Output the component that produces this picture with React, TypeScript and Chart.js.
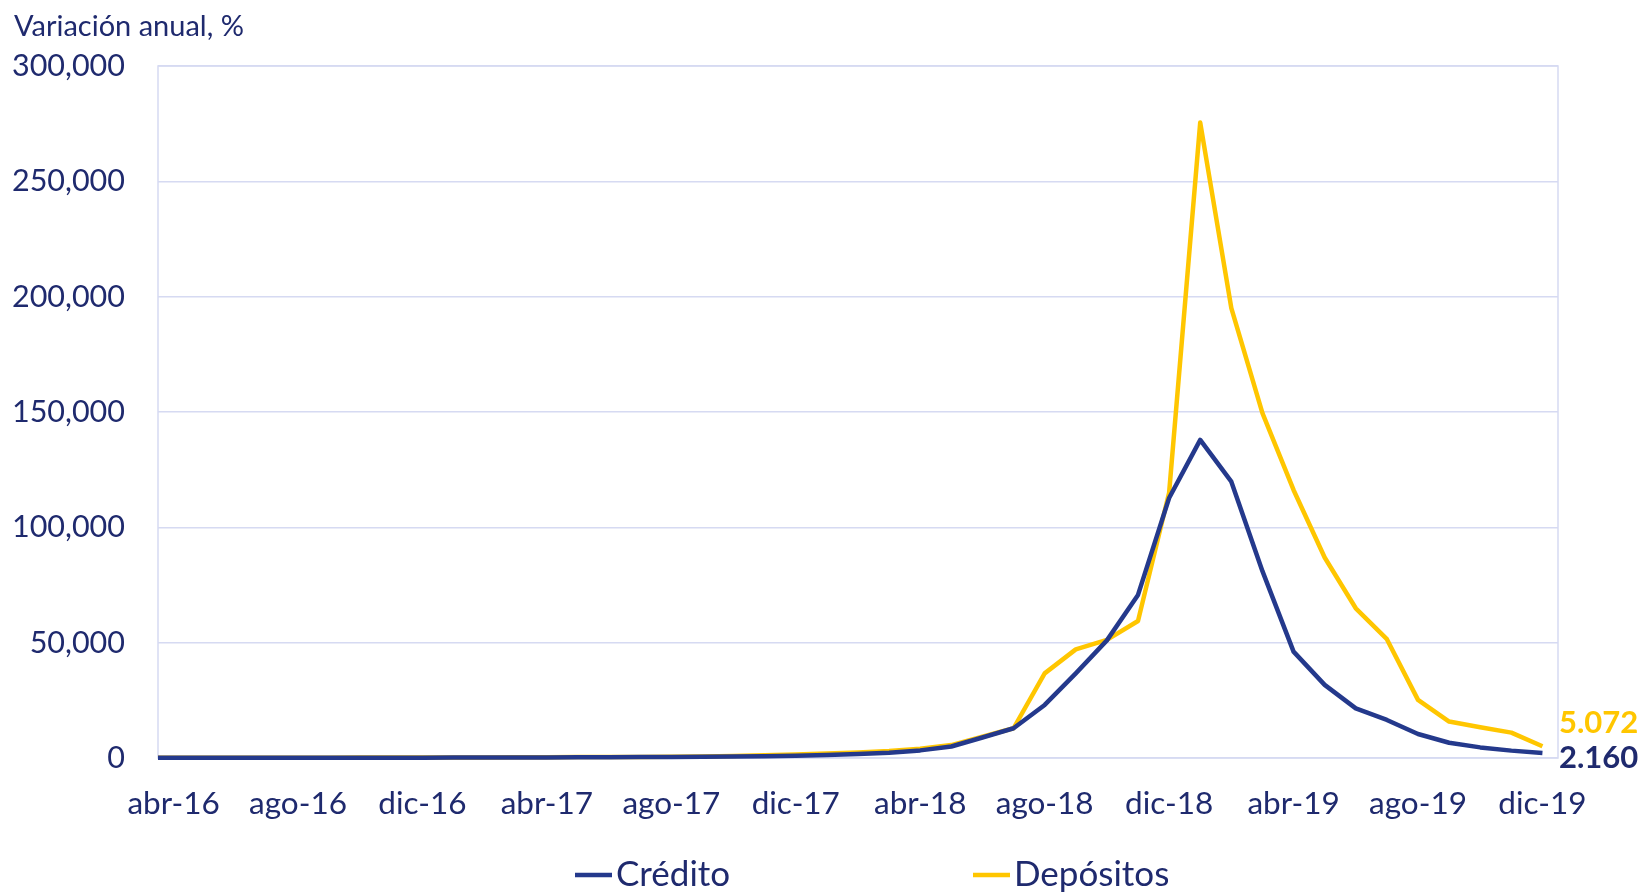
import React, { useEffect, useRef } from 'react';
import { Chart, registerables } from 'chart.js';

Chart.register(...registerables);

// Months (mar-16 is just before the visible range; its segment is clipped at the plot edge)
const months = [
  'mar-16', 'abr-16', 'may-16', 'jun-16', 'jul-16', 'ago-16', 'sep-16', 'oct-16', 'nov-16', 'dic-16',
  'ene-17', 'feb-17', 'mar-17', 'abr-17', 'may-17', 'jun-17', 'jul-17', 'ago-17', 'sep-17', 'oct-17', 'nov-17', 'dic-17',
  'ene-18', 'feb-18', 'mar-18', 'abr-18', 'may-18', 'jun-18', 'jul-18', 'ago-18', 'sep-18', 'oct-18', 'nov-18', 'dic-18',
  'ene-19', 'feb-19', 'mar-19', 'abr-19', 'may-19', 'jun-19', 'jul-19', 'ago-19', 'sep-19', 'oct-19', 'nov-19', 'dic-19',
];

const credito = [
  85, 90, 95, 100, 105, 110, 115, 125, 140, 150,
  170, 190, 220, 250, 290, 330, 380, 430, 500, 600, 750, 1000,
  1350, 1750, 2300, 3300, 5000, 8900, 12900, 23000, 36700, 51000, 70700, 112700,
  137900, 119800, 81000, 46100, 31700, 21500, 16500, 10400, 6600, 4600, 3200, 2160,
];

const depositos = [
  115, 120, 125, 130, 140, 145, 150, 165, 180, 190,
  220, 260, 300, 340, 380, 420, 480, 560, 700, 900, 1150, 1500,
  1900, 2400, 3000, 4000, 5600, 9200, 12900, 36700, 47100, 51200, 59400, 115000,
  275500, 195000, 149500, 116200, 86900, 64900, 51500, 25200, 15800, 13300, 11000, 5072,
];

const tickMonths = ['abr-16', 'ago-16', 'dic-16', 'abr-17', 'ago-17', 'dic-17', 'abr-18', 'ago-18', 'dic-18', 'abr-19', 'ago-19', 'dic-19'];
const yTicks = [0, 50000, 100000, 150000, 200000, 250000, 300000];
const seriesNames = ['Crédito', 'Depósitos'];
const endLabels = ['2.160', '5.072'];
const titleText = 'Variación anual, %';

const FONT = 'Lato, "Open Sans", "Noto Sans", sans-serif';
const TEXT = '#1F2A6E';
const BLUE = '#24398C';
const YELLOW = '#FFC600';
const GRID = '#D6DAF2';

const decorPlugin = {
  id: 'decor',
  beforeDatasetsDraw(chart: any) {
    const { ctx, chartArea } = chart;
    ctx.save();
    ctx.strokeStyle = GRID;
    ctx.lineWidth = 1.5;
    ctx.strokeRect(chartArea.left, chartArea.top, chartArea.right - chartArea.left, chartArea.bottom - chartArea.top);
    ctx.restore();
  },
  afterDatasetsDraw(chart: any) {
    const { ctx, chartArea } = chart;
    ctx.save();
    // title
    ctx.fillStyle = TEXT;
    ctx.font = `29px ${FONT}`;
    ctx.textAlign = 'left';
    ctx.textBaseline = 'middle';
    ctx.fillText(titleText, 14, 27);

    // end labels
    const offsets = [5, -23];
    const colors = [TEXT, YELLOW];
    chart.data.datasets.forEach((ds: any, i: number) => {
      const meta = chart.getDatasetMeta(i);
      const last = meta.data[meta.data.length - 1];
      ctx.font = `bold 31px ${FONT}`;
      ctx.fillStyle = colors[i];
      ctx.textAlign = 'left';
      ctx.textBaseline = 'middle';
      ctx.fillText(endLabels[i], chartArea.right + 1, last.y + offsets[i]);
    });

    // legend
    const legendY = 875;
    const items = [
      { x: 575, color: BLUE },
      { x: 973, color: YELLOW },
    ];
    items.forEach((it, i) => {
      ctx.strokeStyle = it.color;
      ctx.lineWidth = 4.5;
      ctx.lineCap = 'butt';
      ctx.beginPath();
      ctx.moveTo(it.x, legendY);
      ctx.lineTo(it.x + 37, legendY);
      ctx.stroke();
      ctx.fillStyle = TEXT;
      ctx.font = `35px ${FONT}`;
      ctx.textAlign = 'left';
      ctx.textBaseline = 'middle';
      ctx.fillText(seriesNames[i], it.x + 41, legendY);
    });
    ctx.restore();
  },
};

export default function App() {
  const ref = useRef<HTMLCanvasElement | null>(null);

  useEffect(() => {
    if (!ref.current) return;
    const toPts = (arr: number[]) => arr.map((v, i) => ({ x: i - 1, y: v }));
    const chart = new Chart(ref.current, {
      type: 'line',
      data: {
        datasets: [
          {
            label: seriesNames[0],
            data: toPts(credito),
            borderColor: BLUE,
            backgroundColor: BLUE,
            borderWidth: 4.5,
            pointRadius: 0,
            tension: 0,
            borderJoinStyle: 'round',
            clip: { left: 0, top: 10, right: 10, bottom: 10 },
          },
          {
            label: seriesNames[1],
            data: toPts(depositos),
            borderColor: YELLOW,
            backgroundColor: YELLOW,
            borderWidth: 4.5,
            pointRadius: 0,
            tension: 0,
            borderJoinStyle: 'round',
            clip: { left: 0, top: 10, right: 10, bottom: 10 },
          },
        ],
      },
      options: {
        animation: false,
        responsive: false,
        maintainAspectRatio: false,
        layout: { padding: { left: 0, right: 86, top: 66, bottom: 0 } },
        plugins: {
          legend: { display: false },
          title: { display: false },
          tooltip: { enabled: false },
        },
        scales: {
          x: {
            type: 'linear',
            min: -0.5,
            max: 44.5,
            grid: { display: false, drawTicks: false },
            border: { display: false },
            afterBuildTicks: (s: any) => {
              s.ticks = tickMonths.map((m) => ({ value: months.indexOf(m) - 1 }));
            },
            afterFit: (s: any) => {
              s.height = 136;
            },
            ticks: {
              autoSkip: false,
              maxRotation: 0,
              padding: 27,
              color: TEXT,
              font: { size: 31.5, family: FONT },
              callback: (v: any) => months[Number(v) + 1],
            },
          },
          y: {
            min: 0,
            max: 300000,
            afterBuildTicks: (s: any) => {
              s.ticks = yTicks.map((v) => ({ value: v }));
            },
            afterFit: (s: any) => {
              s.width = 158;
            },
            grid: { color: GRID, lineWidth: 1.5, drawTicks: false },
            border: { display: false },
            ticks: {
              padding: 33,
              color: TEXT,
              font: { size: 30.5, family: FONT },
              callback: (v: any) => Number(v).toLocaleString('en-US'),
            },
          },
        },
      },
      plugins: [decorPlugin],
    } as any);
    return () => chart.destroy();
  }, []);

  return (
    <div style={{ position: 'fixed', left: 0, top: 0, width: 1644, height: 894, background: '#fff' }}>
      <canvas ref={ref} width={1644} height={894} style={{ width: 1644, height: 894, display: 'block' }} />
    </div>
  );
}
